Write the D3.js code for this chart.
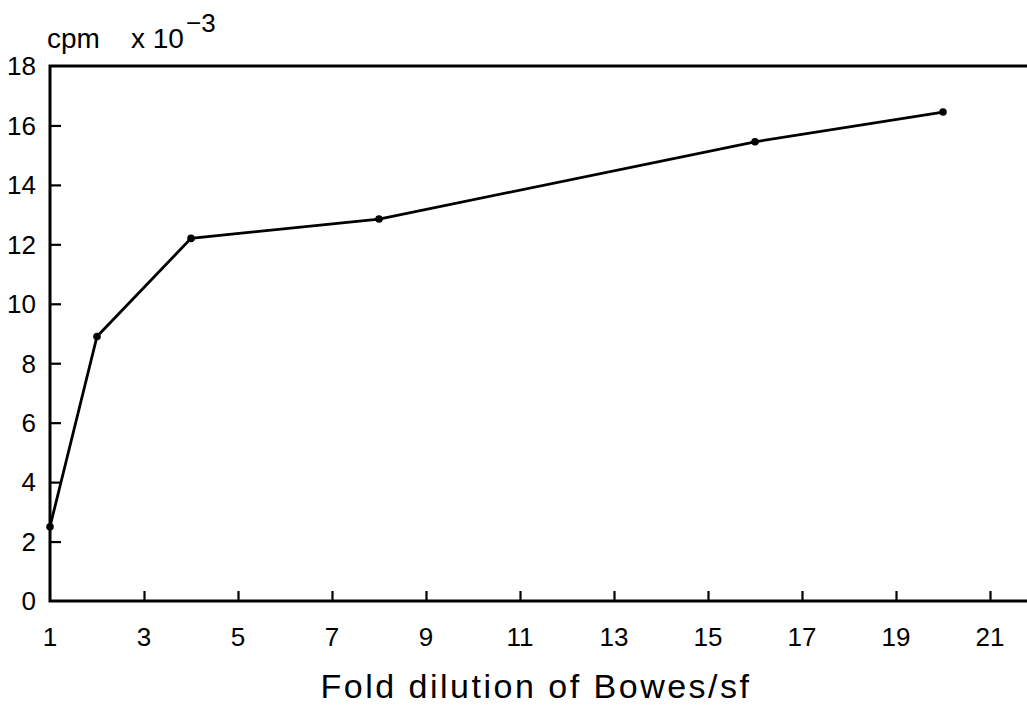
<!DOCTYPE html>
<html>
<head>
<meta charset="utf-8">
<script src="https://d3js.org/d3.v7.min.js"></script>
<style>
  body { margin: 0; background: #fff; }
  text { font-family: "Liberation Sans", Arial, sans-serif; fill: #000; white-space: pre; }
</style>
</head>
<body>
<svg width="1027" height="708"></svg>
<script>
// fold dilution vs cpm (x 10^-3)
var dilution = [1, 2, 4, 8, 16, 20];
var cpm = [2.5, 8.9, 12.2, 12.85, 15.45, 16.45];
var xTicks = [1, 3, 5, 7, 9, 11, 13, 15, 17, 19, 21];
var yTicks = [0, 2, 4, 6, 8, 10, 12, 14, 16, 18];

var svg = d3.select("svg"),
    margin = {top: 66, right: 0, bottom: 107, left: 50},
    width = +svg.attr("width") - margin.left - margin.right,
    height = +svg.attr("height") - margin.top - margin.bottom,
    g = svg.append("g").attr("transform", "translate(" + margin.left + "," + margin.top + ")");

// 47px per unit; axis runs off the right edge
var x = d3.scaleLinear().domain([1, 21]).range([0, 940]),
    y = d3.scaleLinear().domain([0, 18]).range([height, 0]);

// frame: left, bottom, top (no right side)
g.append("path")
    .attr("d", "M" + width + ",0H0V" + height + "H" + width)
    .attr("fill", "none")
    .attr("stroke", "#000")
    .attr("stroke-width", 3);

var xAxis = g.append("g")
    .attr("transform", "translate(0," + height + ")")
    .call(d3.axisTop(x).tickValues(xTicks.slice(1)).tickSize(10).tickFormat(""));
xAxis.select(".domain").remove();
xAxis.selectAll("line").attr("stroke-width", 2.2);

g.selectAll(".xlab")
    .data(xTicks)
    .enter().append("text")
      .attr("class", "xlab")
      .attr("x", function(d) { return x(d); })
      .attr("y", height + 45)
      .attr("text-anchor", "middle")
      .style("font-size", "26px")
      .text(function(d) { return d; });

var yAxis = g.append("g")
    .call(d3.axisRight(y).tickValues(yTicks.filter(function(d) { return d > 0 && d < 18; })).tickSize(11).tickFormat(""));
yAxis.select(".domain").remove();
yAxis.selectAll("line").attr("stroke-width", 2.2);

g.selectAll(".ylab")
    .data(yTicks)
    .enter().append("text")
      .attr("class", "ylab")
      .attr("x", -14)
      .attr("y", function(d) { return y(d); })
      .attr("dy", "0.36em")
      .attr("text-anchor", "end")
      .style("font-size", "26px")
      .text(function(d) { return d; });

var line = d3.line()
    .x(function(d, i) { return x(dilution[i]); })
    .y(function(d) { return y(d); });

g.append("path")
    .attr("d", line(cpm))
    .attr("fill", "none")
    .attr("stroke", "#000")
    .attr("stroke-width", 2.8);

g.selectAll(".pt")
    .data(cpm)
    .enter().append("circle")
      .attr("class", "pt")
      .attr("cx", function(d, i) { return x(dilution[i]); })
      .attr("cy", function(d) { return y(d); })
      .attr("r", 3.8);

// y unit label, exponent as its own text
svg.append("text")
    .attr("x", 47)
    .attr("y", 48)
    .style("font-size", "28px")
    .text("cpm    x 10");

svg.append("text")
    .attr("x", 186)
    .attr("y", 32)
    .style("font-size", "26px")
    .text("\u22123");

svg.append("text")
    .attr("x", 536)
    .attr("y", 698)
    .attr("text-anchor", "middle")
    .style("font-size", "34px")
    .style("letter-spacing", "2.5px")
    .text("Fold dilution of Bowes/sf");
</script>
</body>
</html>
